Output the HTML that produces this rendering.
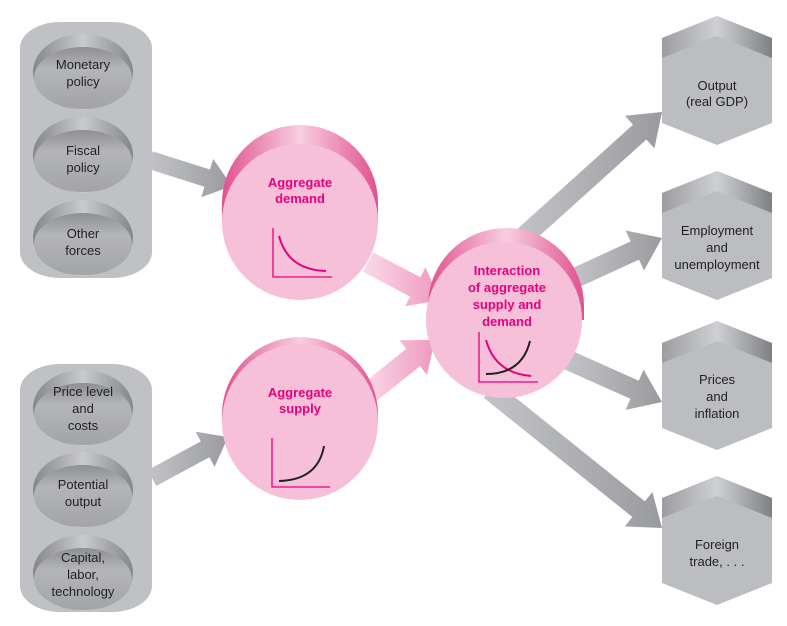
<!DOCTYPE html>
<html><head><meta charset="utf-8"><style>
html,body{margin:0;padding:0;background:#fff;}
svg{display:block;}
text{font-family:"Liberation Sans",Arial,sans-serif;}
</style></head><body>
<svg width="787" height="626" viewBox="0 0 787 626" xmlns="http://www.w3.org/2000/svg">
<defs>
<linearGradient id="ov" x1="0" y1="0" x2="0" y2="1">
<stop offset="0" stop-color="#8e8f93"/><stop offset="0.35" stop-color="#b4b5b9"/><stop offset="1" stop-color="#a3a4a8"/>
</linearGradient>
<linearGradient id="ovTop" x1="0" y1="0" x2="1" y2="0">
<stop offset="0" stop-color="#85868a"/><stop offset="0.5" stop-color="#c9cacd"/><stop offset="1" stop-color="#85868a"/>
</linearGradient>
<linearGradient id="pk" x1="0" y1="0" x2="1" y2="0">
<stop offset="0" stop-color="#e0508f"/><stop offset="0.5" stop-color="#f7cfe0"/><stop offset="1" stop-color="#e0508f"/>
</linearGradient>
<linearGradient id="ga" x1="0" y1="0" x2="1" y2="0">
<stop offset="0" stop-color="#c3c4c7"/><stop offset="1" stop-color="#9a9b9f"/>
</linearGradient>
<linearGradient id="pa" x1="0" y1="0" x2="1" y2="0">
<stop offset="0" stop-color="#fadbe8"/><stop offset="1" stop-color="#f098c0"/>
</linearGradient>
<linearGradient id="hb" x1="0" y1="0" x2="1" y2="0">
<stop offset="0" stop-color="#9c9da1"/><stop offset="0.5" stop-color="#cfd0d3"/><stop offset="1" stop-color="#7f8084"/>
</linearGradient>
</defs>

<rect x="20" y="22" width="132" height="256" rx="40" ry="26" fill="#c0c1c4"/>
<rect x="20" y="364" width="132" height="248" rx="40" ry="26" fill="#c0c1c4"/>

<g>
<g transform="translate(83,72)"><ellipse rx="50" ry="38" fill="url(#ovTop)"/><ellipse cy="6" rx="49" ry="31" fill="url(#ov)"/></g>
<g transform="translate(83,155)"><ellipse rx="50" ry="38" fill="url(#ovTop)"/><ellipse cy="6" rx="49" ry="31" fill="url(#ov)"/></g>
<g transform="translate(83,238)"><ellipse rx="50" ry="38" fill="url(#ovTop)"/><ellipse cy="6" rx="49" ry="31" fill="url(#ov)"/></g>
<g transform="translate(83,408)"><ellipse rx="50" ry="38" fill="url(#ovTop)"/><ellipse cy="6" rx="49" ry="31" fill="url(#ov)"/></g>
<g transform="translate(83,490)"><ellipse rx="50" ry="38" fill="url(#ovTop)"/><ellipse cy="6" rx="49" ry="31" fill="url(#ov)"/></g>
<g transform="translate(83,573)"><ellipse rx="50" ry="38" fill="url(#ovTop)"/><ellipse cy="6" rx="49" ry="31" fill="url(#ov)"/></g>
</g>
<g font-size="13" fill="#222" text-anchor="middle">
<text x="83" y="69">Monetary</text><text x="83" y="86">policy</text>
<text x="83" y="155">Fiscal</text><text x="83" y="172">policy</text>
<text x="83" y="238">Other</text><text x="83" y="255">forces</text>
<text x="83" y="396">Price level</text><text x="83" y="413">and</text><text x="83" y="430">costs</text>
<text x="83" y="489">Potential</text><text x="83" y="506">output</text>
<text x="83" y="562">Capital,</text><text x="83" y="579">labor,</text><text x="83" y="596">technology</text>
</g>

<!-- gray input arrows -->
<polygon points="147.3,168.6 204.5,186.7 201.2,197.2 232,186 213.2,159.0 209.9,169.5 152.7,151.4" fill="url(#ga)"/>
<polygon points="156.3,485.9 209.4,457.2 214.6,466.9 228,437 195.6,431.7 200.8,441.4 147.7,470.1" fill="url(#ga)"/>

<!-- output arrows -->
<polygon points="526.7,247.4 646.4,139.5 654.4,148.4 662,112 625.0,115.8 633.0,124.7 513.3,232.6" fill="url(#ga)"/>
<polygon points="579.2,287.1 639.0,259.6 644.0,270.5 662,238 625.6,230.5 630.6,241.4 570.8,268.9" fill="url(#ga)"/>
<polygon points="563.9,369.1 630.5,398.9 625.6,409.9 662,402 643.6,369.7 638.7,380.7 572.1,350.9" fill="url(#ga)"/>
<polygon points="483.7,397.8 632.3,517.0 624.8,526.4 662,528 652.4,492.0 644.9,501.4 496.3,382.2" fill="url(#ga)"/>

<!-- pink arrows -->
<polygon points="362.9,271.7 410.1,296.6 404.9,306.4 440,300 425.5,267.4 420.3,277.2 373.1,252.3" fill="url(#pa)"/>
<polygon points="376.9,400.6 420.0,366.1 426.9,374.7 435,340 399.4,340.3 406.2,348.9 363.1,383.4" fill="url(#pa)"/>

<!-- pink cylinders -->
<g>
<path d="M222,222 L222,203 A78,78 0 0 1 378,203 L378,222 Z" fill="url(#pk)"/>
<circle cx="300" cy="222" r="78" fill="#f6c0d9"/>
<text x="300" y="187" font-size="13" font-weight="bold" fill="#e6007e" text-anchor="middle">Aggregate</text>
<text x="300" y="203" font-size="13" font-weight="bold" fill="#e6007e" text-anchor="middle">demand</text>
<path d="M273,228 L273,277 L332,277" stroke="#e6007e" stroke-width="1.3" fill="none"/>
<path d="M279,236 Q288,270 326,271" stroke="#e6007e" stroke-width="2" fill="none"/>
</g>
<g>
<path d="M222,422 L222,415 A78,78 0 0 1 378,415 L378,422 Z" fill="url(#pk)"/>
<circle cx="300" cy="422" r="78" fill="#f6c0d9"/>
<text x="300" y="397" font-size="13" font-weight="bold" fill="#e6007e" text-anchor="middle">Aggregate</text>
<text x="300" y="413" font-size="13" font-weight="bold" fill="#e6007e" text-anchor="middle">supply</text>
<path d="M272,438 L272,487 L330,487" stroke="#e6007e" stroke-width="1.3" fill="none"/>
<path d="M279,481 Q318,480 324,446" stroke="#222" stroke-width="2" fill="none"/>
</g>
<g>
<path d="M428,320 L428,306 A78,78 0 0 1 584,306 L584,320 Z" fill="url(#pk)"/>
<circle cx="504" cy="320" r="78" fill="#f6c0d9"/>
<g font-size="13" font-weight="bold" fill="#e6007e" text-anchor="middle">
<text x="507" y="275">Interaction</text><text x="507" y="292">of aggregate</text>
<text x="507" y="309">supply and</text><text x="507" y="326">demand</text>
</g>
<path d="M479,332 L479,382 L538,382" stroke="#e6007e" stroke-width="1.3" fill="none"/>
<path d="M486,340 Q495,373 531,376" stroke="#e6007e" stroke-width="2" fill="none"/>
<path d="M486,374 Q522,374 530,341" stroke="#222" stroke-width="2" fill="none"/>
</g>

<!-- hexagons -->
<g>
<g transform="translate(717,93)">
<polygon points="0,-77 55,-55 55,30 0,52 -55,30 -55,-55" fill="#bcbdc0"/>
<polygon points="0,-77 55,-55 55,-35 0,-57 -55,-35 -55,-55" fill="url(#hb)"/>
</g>
<g transform="translate(717,248)">
<polygon points="0,-77 55,-55 55,30 0,52 -55,30 -55,-55" fill="#bcbdc0"/>
<polygon points="0,-77 55,-55 55,-35 0,-57 -55,-35 -55,-55" fill="url(#hb)"/>
</g>
<g transform="translate(717,398)">
<polygon points="0,-77 55,-55 55,30 0,52 -55,30 -55,-55" fill="#bcbdc0"/>
<polygon points="0,-77 55,-55 55,-35 0,-57 -55,-35 -55,-55" fill="url(#hb)"/>
</g>
<g transform="translate(717,553)">
<polygon points="0,-77 55,-55 55,30 0,52 -55,30 -55,-55" fill="#bcbdc0"/>
<polygon points="0,-77 55,-55 55,-35 0,-57 -55,-35 -55,-55" fill="url(#hb)"/>
</g>
</g>
<g font-size="13" fill="#222" text-anchor="middle">
<text x="717" y="90">Output</text><text x="717" y="106">(real GDP)</text>
<text x="717" y="235">Employment</text><text x="717" y="252">and</text><text x="717" y="269">unemployment</text>
<text x="717" y="384">Prices</text><text x="717" y="401">and</text><text x="717" y="418">inflation</text>
<text x="717" y="549">Foreign</text><text x="717" y="566">trade, . . .</text>
</g>
</svg>
</body></html>
